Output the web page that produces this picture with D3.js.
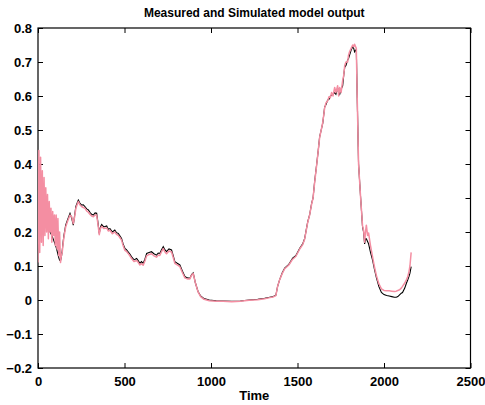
<!DOCTYPE html>
<html><head><meta charset="utf-8">
<script src="https://cdn.jsdelivr.net/npm/d3@7"></script>
<style>
html,body{margin:0;padding:0;background:#fff;}
svg{display:block;font-family:"Liberation Sans",Arial,Helvetica,sans-serif;}
</style></head>
<body><svg id="chart" width="485" height="405"></svg>
<script>
const titleText = "Measured and Simulated model output";
const xLabel = "Time";
const xTicks = [0, 500, 1000, 1500, 2000, 2500];
const yTicks = [-0.2, -0.1, 0, 0.1, 0.2, 0.3, 0.4, 0.5, 0.6, 0.7, 0.8];

const time = [0,5,10,15,20,25,30,35,40,45,50,55,60,65,70,75,80,85,90,95,100,105,110,115,120,125,130,135,140,145,150,155,160,
170,185,195,204,212,219,226,233,242,252,262,271,281,291,300,310,320,330,339,346,354,361,368,380,397,406,416,430,444,454,464,474,483,492,502,511,521,531,541,555,570,580,589,598,608,618,628,642,656,670,685,695,704,714,724,733,743,757,772,782,791,805,820,835,849,863,878,888,897,910,925,940,960,990,1030,1070,1120,1170,1220,1270,1310,1340,1360,1375,1385,1397,1412,1426,1450,1472,1490,1513,1530,1541,1550,1559,1570,1582,1590,1599,1611,1620,1628,1637,1646,1657,1665,1674,1682,1690,1697,1705,1715,1722,1732,1738,1744,1752,1761,1767,1773,1780,1790,1795,1801,1810,1819,1825,1830,1836,1840,1845,1853,1865,1876,1882,1888,1893,1898,1905,1911,1922,1934,1945,1956,1970,1985,2000,2015,2030,2045,2060,2071,2080,2090,2100,2107,2120,2130,2137,2145,2150,2157];

const measured = [0.26,0.25,0.25,0.245,0.24,0.24,0.235,0.23,0.228,0.225,0.22,0.215,0.21,0.205,0.2,0.195,0.19,0.183,0.176,0.17,0.162,0.155,0.145,0.135,0.125,0.117,0.115,0.125,0.145,0.17,0.19,0.205,0.22,
0.235,0.255,0.24,0.22,0.25,0.275,0.285,0.294,0.285,0.279,0.28,0.275,0.268,0.265,0.258,0.252,0.25,0.256,0.255,0.23,0.196,0.215,0.222,0.215,0.218,0.208,0.21,0.2,0.206,0.198,0.196,0.188,0.181,0.165,0.152,0.148,0.142,0.135,0.127,0.118,0.122,0.115,0.108,0.113,0.108,0.12,0.137,0.14,0.142,0.136,0.132,0.138,0.137,0.148,0.157,0.148,0.142,0.15,0.147,0.13,0.113,0.108,0.103,0.085,0.069,0.065,0.064,0.075,0.08,0.05,0.025,0.012,0.004,0,-0.002,-0.003,-0.004,-0.003,0,0.002,0.005,0.008,0.01,0.014,0.04,0.06,0.08,0.094,0.105,0.123,0.13,0.152,0.165,0.18,0.205,0.23,0.25,0.285,0.3,0.348,0.4,0.44,0.48,0.5,0.52,0.568,0.575,0.588,0.59,0.6,0.603,0.605,0.61,0.605,0.624,0.61,0.605,0.62,0.63,0.66,0.685,0.69,0.706,0.71,0.72,0.735,0.745,0.74,0.73,0.735,0.735,0.6,0.4,0.3,0.215,0.2,0.165,0.18,0.18,0.172,0.165,0.14,0.117,0.09,0.066,0.04,0.022,0.016,0.013,0.012,0.01,0.008,0.008,0.01,0.015,0.02,0.022,0.035,0.05,0.059,0.07,0.079,0.098];

const simulated = [0.11,0.44,0.14,0.42,0.17,0.38,0.16,0.36,0.19,0.33,0.2,0.31,0.18,0.29,0.2,0.27,0.17,0.26,0.19,0.25,0.16,0.25,0.15,0.24,0.13,0.2,0.11,0.13,0.14,0.165,0.185,0.2,0.215,
0.23,0.25,0.245,0.225,0.245,0.27,0.28,0.29,0.28,0.275,0.272,0.27,0.262,0.258,0.252,0.247,0.245,0.25,0.25,0.225,0.192,0.21,0.217,0.21,0.212,0.203,0.205,0.195,0.2,0.193,0.19,0.183,0.176,0.16,0.146,0.143,0.137,0.13,0.122,0.113,0.116,0.11,0.103,0.107,0.102,0.115,0.13,0.134,0.136,0.13,0.126,0.132,0.131,0.142,0.151,0.142,0.136,0.144,0.141,0.124,0.108,0.103,0.098,0.08,0.065,0.062,0.062,0.073,0.078,0.05,0.024,0.01,0.002,-0.002,-0.004,-0.004,-0.005,-0.004,-0.001,0.001,0.004,0.007,0.009,0.013,0.04,0.06,0.078,0.092,0.103,0.12,0.128,0.15,0.163,0.178,0.203,0.228,0.25,0.283,0.3,0.345,0.398,0.44,0.478,0.5,0.522,0.565,0.58,0.585,0.598,0.595,0.61,0.6,0.625,0.61,0.63,0.6,0.625,0.61,0.645,0.66,0.69,0.7,0.7,0.72,0.73,0.74,0.75,0.745,0.752,0.745,0.74,0.6,0.4,0.3,0.218,0.205,0.17,0.2,0.22,0.19,0.197,0.16,0.127,0.097,0.072,0.048,0.033,0.028,0.027,0.027,0.026,0.025,0.026,0.028,0.03,0.035,0.04,0.05,0.06,0.068,0.085,0.1,0.14];

const svg = d3.select("#chart");
const L = 38, R = 470.5, T = 28, B = 368;

const x = d3.scaleLinear().domain([0, 2500]).range([L, R]);
const y = d3.scaleLinear().domain([-0.2, 0.8]).range([B, T]);

const fmt = d => d3.format("")(+d.toFixed(1));

// axes (MATLAB style, inward ticks, box)
const gx = svg.append("g").attr("transform", `translate(0,${B})`)
  .call(d3.axisBottom(x).tickValues(xTicks).tickSizeInner(-5).tickSizeOuter(0).tickPadding(9).tickFormat(d3.format("d")));
const gxt = svg.append("g").attr("transform", `translate(0,${T})`)
  .call(d3.axisTop(x).tickValues(xTicks).tickSizeInner(-5).tickSizeOuter(0).tickFormat(""));
const gy = svg.append("g").attr("transform", `translate(${L},0)`)
  .call(d3.axisLeft(y).tickValues(yTicks).tickSizeInner(-5).tickSizeOuter(0).tickPadding(6).tickFormat(fmt));
const gyr = svg.append("g").attr("transform", `translate(${R},0)`)
  .call(d3.axisRight(y).tickValues(yTicks).tickSizeInner(-5).tickSizeOuter(0).tickFormat(""));
[gx, gxt, gy, gyr].forEach(g => {
  g.select(".domain").remove();
  g.selectAll("line").attr("stroke", "#000").attr("stroke-width", 1);
  g.selectAll("text").attr("fill", "#000").style("font-size", "13px").style("font-weight", "bold")
    .style("font-family", "'Liberation Sans',Arial,sans-serif");
});
svg.append("rect").attr("x", L).attr("y", T).attr("width", R - L).attr("height", B - T)
  .attr("fill", "none").attr("stroke", "#000").attr("stroke-width", 1.2);

const pts = (vals) => time.map((t, i) => [t, vals[i]]);
const line = d3.line().x(d => x(d[0])).y(d => y(d[1]));

const clip = svg.append("clipPath").attr("id", "clip").append("rect")
  .attr("x", L).attr("y", T).attr("width", R - L).attr("height", B - T);
const plot = svg.append("g").attr("clip-path", "url(#clip)");
plot.append("path").datum(pts(measured)).attr("d", line)
  .attr("fill", "none").attr("stroke", "#000").attr("stroke-width", 1.1);
plot.append("path").datum(pts(simulated)).attr("d", line)
  .attr("fill", "none").attr("stroke", "#f48ea2").attr("stroke-width", 1.5).attr("stroke-linejoin", "round");

svg.append("text").attr("x", (L + R) / 2).attr("y", 17).attr("text-anchor", "middle")
  .style("font-size", "12px").style("font-weight", "bold").text(titleText);
svg.append("text").attr("x", (L + R) / 2).attr("y", 400).attr("text-anchor", "middle")
  .style("font-size", "13px").style("font-weight", "bold").text(xLabel);
</script></body></html>
